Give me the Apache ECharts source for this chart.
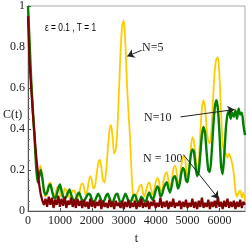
<!DOCTYPE html>
<html><head><meta charset="utf-8">
<script src="https://cdn.jsdelivr.net/npm/echarts@6/dist/echarts.min.js"></script>
<style>html,body{margin:0;padding:0;background:#fff}#c{width:249px;height:250px}</style>
</head><body><div id="c"></div>
<script>
const tValues = [0,50,100,150,200,250,300,350,400,450,500,550,600,650,700,750,800,850,900,950,
1000,1050,1100,1150,1200,1250,1300,1350,1400,1450,1500,1550,1600,1650,1700,1750,1800,1850,1900,1950,
2000,2050,2100,2150,2200,2250,2300,2350,2400,2450,2500,2550,2600,2650,2700,2750,2800,2850,2900,2950,
3000,3050,3100,3150,3200,3250,3300,3350,3400,3450,3500,3550,3600,3650,3700,3750,3800,3850,3900,3950,
4000,4050,4100,4150,4200,4250,4300,4350,4400,4450,4500,4550,4600,4650,4700,4750,4800,4850,4900,4950,
5000,5050,5100,5150,5200,5250,5300,5350,5400,5450,5500,5550,5600,5650,5700,5750,5800,5850,5900,5950,
6000,6050,6100,6150,6200,6250,6300,6350,6400,6450,6500,6550,6600,6650,6700,6750,6800];

const cN5 = [1.0,0.8,0.63,0.5,0.38,0.24,0.15,0.2,0.22,0.16,0.1,0.07,0.09,0.13,0.14,0.1,0.07,0.08,0.11,0.12,
0.09,0.07,0.08,0.11,0.1,0.08,0.065,0.08,0.1,0.1,0.08,0.065,0.08,0.12,0.135,0.12,0.08,0.09,0.14,0.17,
0.15,0.11,0.12,0.18,0.23,0.25,0.21,0.15,0.14,0.2,0.3,0.39,0.42,0.36,0.28,0.3,0.4,0.58,0.78,0.9,
0.93,0.82,0.62,0.48,0.35,0.17,0.06,0.04,0.08,0.1,0.12,0.13,0.09,0.07,0.1,0.13,0.14,0.11,0.08,0.1,
0.14,0.16,0.15,0.1,0.1,0.15,0.18,0.19,0.15,0.12,0.14,0.2,0.22,0.2,0.14,0.15,0.22,0.26,0.27,0.22,
0.16,0.2,0.3,0.36,0.34,0.26,0.2,0.24,0.38,0.5,0.54,0.5,0.4,0.34,0.33,0.4,0.55,0.68,0.74,0.75,
0.66,0.48,0.33,0.29,0.28,0.26,0.28,0.26,0.23,0.18,0.1,0.07,0.09,0.1,0.065,0.09,0.05];

const cN10 = [1.0,0.82,0.64,0.5,0.37,0.23,0.14,0.17,0.2,0.16,0.1,0.08,0.09,0.12,0.13,0.1,0.07,0.06,0.08,0.11,
0.13,0.1,0.07,0.06,0.07,0.09,0.105,0.08,0.06,0.05,0.06,0.08,0.09,0.07,0.05,0.045,0.06,0.075,0.085,0.08,
0.055,0.04,0.05,0.07,0.085,0.07,0.05,0.04,0.055,0.075,0.085,0.065,0.045,0.04,0.06,0.08,0.085,0.06,0.04,0.045,
0.065,0.085,0.07,0.045,0.04,0.055,0.075,0.08,0.06,0.04,0.05,0.07,0.06,0.045,0.05,0.075,0.09,0.07,0.055,0.07,
0.1,0.12,0.11,0.07,0.08,0.11,0.13,0.14,0.11,0.09,0.12,0.16,0.17,0.15,0.11,0.13,0.18,0.21,0.2,0.15,
0.14,0.2,0.27,0.3,0.29,0.22,0.17,0.19,0.28,0.37,0.41,0.38,0.28,0.2,0.19,0.27,0.4,0.5,0.54,0.5,
0.38,0.22,0.18,0.27,0.4,0.47,0.49,0.45,0.48,0.46,0.49,0.45,0.5,0.47,0.48,0.42,0.37];

const cN100 = [0.95,0.72,0.6,0.48,0.38,0.28,0.2,0.13,0.08,0.05,0.03,0.06,0.02,0.07,0.03,0.065,0.015,0.055,0.03,0.075,
0.02,0.06,0.025,0.07,0.015,0.05,0.03,0.065,0.02,0.055,0.015,0.06,0.025,0.05,0.015,0.055,0.02,0.045,0.01,0.06,
0.02,0.05,0.015,0.045,0.025,0.055,0.01,0.05,0.02,0.04,0.015,0.055,0.02,0.045,0.01,0.05,0.025,0.04,0.015,0.05,
0.01,0.045,0.02,0.055,0.015,0.04,0.02,0.05,0.01,0.045,0.02,0.06,0.015,0.04,0.02,0.05,0.01,0.045,0.025,0.055,
0.015,0.04,0.02,0.065,0.015,0.045,0.02,0.05,0.01,0.045,0.02,0.06,0.015,0.04,0.025,0.05,0.01,0.045,0.02,0.055,
0.015,0.04,0.02,0.06,0.015,0.045,0.01,0.05,0.02,0.065,0.015,0.04,0.02,0.055,0.01,0.045,0.02,0.05,0.015,0.07,
0.02,0.045,0.01,0.05,0.02,0.06,0.015,0.045,0.02,0.05,0.01,0.045,0.02,0.055,0.015,0.045,0.03];

const xTickValues = [0,1000,2000,3000,4000,5000,6000];
const yTickValues = [0,0.2,0.4,0.6,0.8,1];

const seriesNames = ['N=5','N=10','N = 100'];
const arrows = [
  {from:[3560,0.784], to:[3110,0.755]},
  {from:[4780,0.459], to:[6470,0.495]},
  {from:[4870,0.275], to:[5970,0.06]}
];

const pair = arr => tValues.map((t,i)=>[t,arr[i]]);
const serif = 'Liberation Serif';

const chart = echarts.init(document.getElementById('c'), null, {renderer:'canvas'});
chart.setOption({
  animation:false,
  grid:{left:28, top:3, right:4, bottom:29, show:true, borderColor:'#aaa', borderWidth:1},
  xAxis:{type:'value', min:0, max:6800, interval:1000,
    axisLine:{show:true, onZero:false, lineStyle:{color:'#555', width:1}},
    axisTick:{show:true, inside:true, length:3, lineStyle:{color:'#555'}},
    axisLabel:{showMaxLabel:false, margin:4, fontFamily:serif, fontSize:12, color:'#222',
      formatter:v=> xTickValues.includes(v) ? String(v) : ''},
    splitLine:{show:false},
    name:'t', nameLocation:'middle', nameGap:22, nameTextStyle:{fontFamily:serif, fontSize:12, color:'#222'}},
  yAxis:{type:'value', min:0, max:1, interval:0.2,
    axisLine:{show:true, lineStyle:{color:'#555', width:1}},
    axisTick:{show:true, inside:true, length:3, lineStyle:{color:'#555'}},
    minorTick:{show:true, splitNumber:4, length:2, lineStyle:{color:'#777'}},
    axisLabel:{margin:3, fontFamily:serif, fontSize:12, color:'#222',
      formatter:v=> yTickValues.some(y=>Math.abs(y-v)<1e-9) ? String(+v.toFixed(1)) : ''},
    splitLine:{show:false}},
  series:[
    {name:seriesNames[0], type:'line', data:pair(cN5), showSymbol:false, smooth:0.25,
     lineStyle:{color:'#FFCC00', width:1.8}, z:2},
    {name:seriesNames[1], type:'line', data:pair(cN10), showSymbol:false, smooth:0.2,
     lineStyle:{color:'#008000', width:2.4}, z:3},
    {name:seriesNames[2], type:'line', data:pair(cN100), showSymbol:false,
     lineStyle:{color:'#800000', width:2.2}, z:4,
     markLine:{silent:true, symbol:['none','arrow'], symbolSize:7, animation:false,
       label:{show:false}, lineStyle:{color:'#222', width:1, type:'solid'},
       data: arrows.map(a=>[{coord:a.from},{coord:a.to}])}}
  ],
  graphic:[
    {type:'text', x:45, y:28, style:{text:'ε = 0.1 , T = 1', font:'11px "Liberation Sans"', fill:'#000', verticalAlign:'middle'}, scaleX:0.76, originX:0},
    {type:'text', x:142, y:48, style:{text:seriesNames[0], font:'12px "Liberation Serif"', fill:'#222', verticalAlign:'middle'}},
    {type:'text', x:144, y:118, style:{text:seriesNames[1], font:'12px "Liberation Serif"', fill:'#222', verticalAlign:'middle'}},
    {type:'text', x:143, y:159, style:{text:seriesNames[2], font:'12px "Liberation Serif"', fill:'#222', verticalAlign:'middle'}},
    {type:'text', x:3, y:115, style:{text:'C(t)', font:'12px "Liberation Serif"', fill:'#222', verticalAlign:'middle'}}
  ]
});
</script></body></html>
